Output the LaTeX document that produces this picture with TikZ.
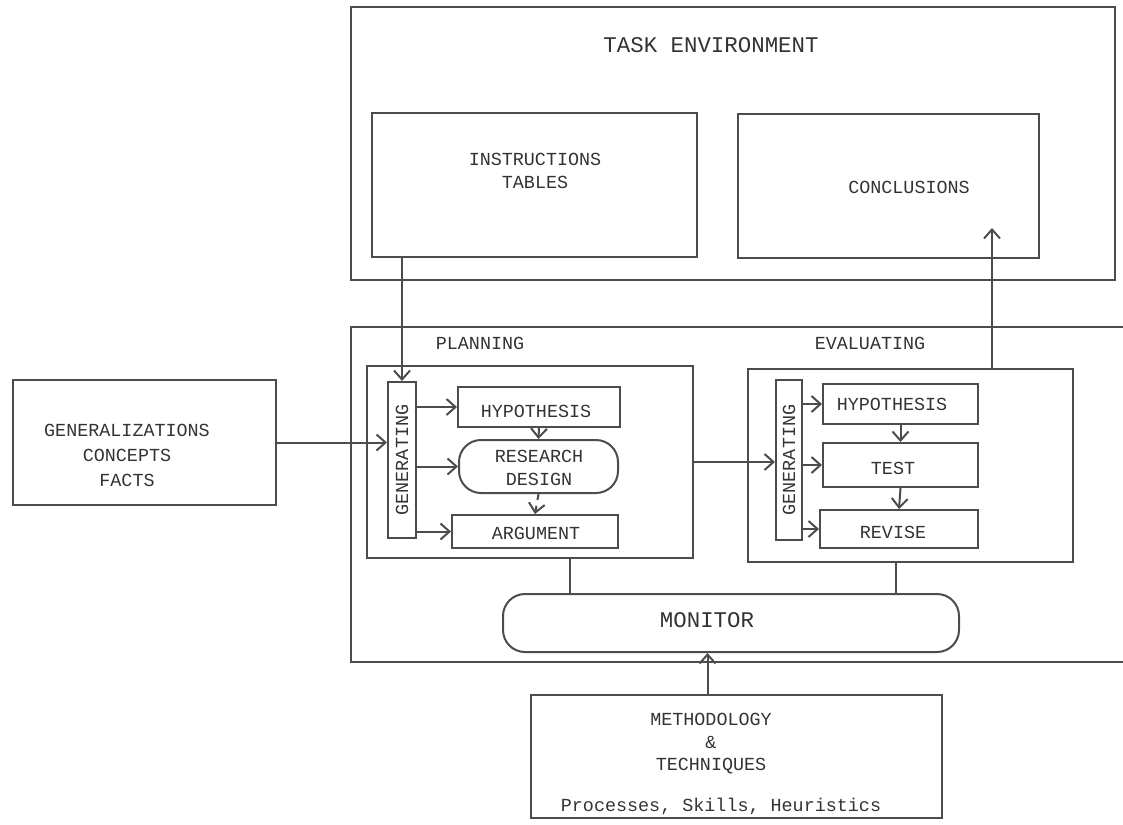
\documentclass[tikz,border=0pt]{standalone}
\usepackage{fontspec}
\newfontfamily\typewr{Liberation Mono}
\usetikzlibrary{fit,arrows.meta}
\begin{document}
\begin{tikzpicture}[x=0.5pt,y=-0.5pt,
				every node/.style={font=\typewr\fontsize{9.2}{11.5}\selectfont,text=black!80,align=center},
				box/.style={draw=black!70,line width=1pt,inner sep=0pt},
				roundbox/.style={box,rounded corners=11pt},
				big/.style={font=\typewr\fontsize{11.2}{13}\selectfont},
				line/.style={draw=black!70,line width=1pt},
				arr/.style={line,-{Straight Barb[length=4.5pt,width=8pt]}}]
\useasboundingbox (0,0) rectangle (1123,824);
\node[box,fit={(351,7) (1115,280)}] (taskenv) {};
\node[big] at (711,45) {TASK ENVIRONMENT};
\node[box,fit={(372,113) (697,257)}] (instr) {};
\node at (535,171) {INSTRUCTIONS\\TABLES};
\node[box,fit={(738,114) (1039,258)}] (concl) {};
\node at (909,187) {CONCLUSIONS};
\coordinate (conctip) at (992,228);

\draw[line] (1123,327) -- (351,327) -- (351,662) -- (1123,662);
\node at (480,343) {PLANNING};
\node at (870,343) {EVALUATING};

\node[box,fit={(367,366) (693,558)}] (planbox) {};
\node[box,fit={(388,382) (416,538)}] (genP) {};
\node[rotate=90] at (genP) {GENERATING};
\node[box,fit={(458,387) (620,427)}] (hypP) {};
\node at (536,411) {HYPOTHESIS};
\node[roundbox,fit={(459,440) (618,493)}] (rdP) {};
\node at (539,468) {RESEARCH\\DESIGN};
\node[box,fit={(452,515) (618,548)}] (argP) {};
\node at (536,533) {ARGUMENT};

\node[box,fit={(748,369) (1073,562)}] (evalbox) {};
\node[box,fit={(776,380) (802,540)}] (genE) {};
\node[rotate=90] at (genE) {GENERATING};
\node[box,fit={(823,384) (978,424)}] (hypE) {};
\node at (892,404) {HYPOTHESIS};
\node[box,fit={(823,443) (978,487)}] (testE) {};
\node at (893,468) {TEST};
\node[box,fit={(820,510) (978,548)}] (revE) {};
\node at (893,532) {REVISE};

\node[box,fit={(13,380) (276,505)}] (gens) {};
\node[font=\typewr\fontsize{9.2}{12.5}\selectfont] at (127,455) {GENERALIZATIONS\\CONCEPTS\\FACTS};

\node[roundbox,fit={(503,594) (959,652)}] (monitor) {};
\node[big] at (707,620) {MONITOR};
\node[box,fit={(531,695) (942,818)}] (methods) {};
\node[font=\typewr\fontsize{9.2}{11.25}\selectfont] at (711,744) {METHODOLOGY\\\&\\TECHNIQUES};
\node at (721,806) {Processes, Skills, Heuristics};

\draw[arr] (genP.north |- instr.south) -- (genP.north);
\draw[arr] (evalbox.north -| conctip) -- (conctip);
\draw[arr] (gens.east) -- (genP.west |- gens.east);
\draw[arr] (genP.east |- hypP.west) -- (hypP.west);
\draw[arr] (genP.east |- rdP.west) -- (rdP.west);
\draw[arr] (genP.east |- argP.west) -- (argP.west);
\draw[arr] (hypP.south) -- (rdP.north);
\draw[arr,dashed] (rdP.south) -- (argP.north);
\draw[arr] (planbox.east) -- (genE.west |- planbox.east);
\draw[arr] (genE.east |- hypE.west) -- (hypE.west);
\draw[arr] (genE.east |- testE.west) -- (testE.west);
\draw[arr] (genE.east |- revE.west) -- (revE.west);
\draw[arr] (hypE.south) -- (testE.north);
\draw[arr] (testE.south) -- (revE.north);
\draw[line] ([xshift=20pt]planbox.south) -- ([xshift=20pt]planbox.south |- monitor.north);
\draw[line] ([xshift=-7.5pt]evalbox.south) -- ([xshift=-7.5pt]evalbox.south |- monitor.north);
\draw[arr] ([xshift=-14.5pt]methods.north) -- ([xshift=-14.5pt]methods.north |- monitor.south);
\end{tikzpicture}
\end{document}
